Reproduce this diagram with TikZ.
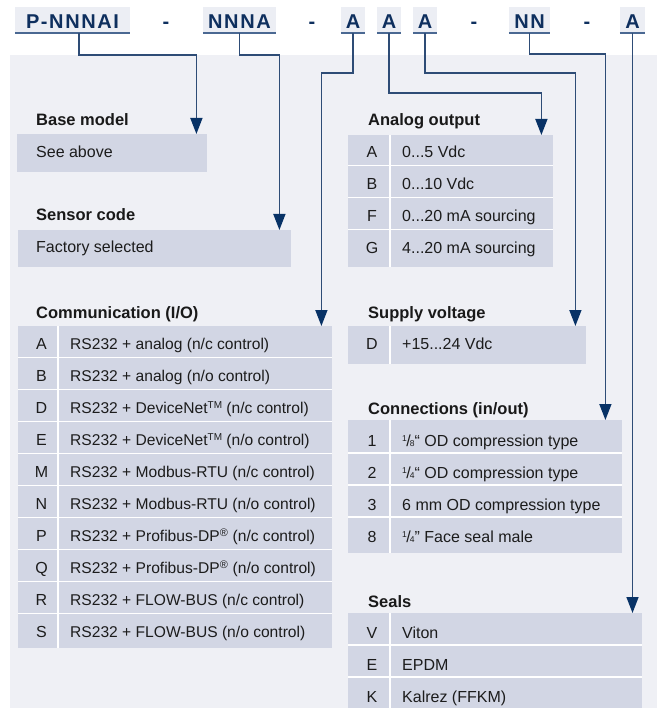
\documentclass[tikz,border=0pt]{standalone}
\usepackage{fontspec}
\setmainfont{Liberation Sans}
\newfontfamily\hdrfont[LetterSpace=8]{Liberation Sans}
\usepackage{xcolor}
\usepackage{tikz}
\usetikzlibrary{arrows.meta}
\definecolor{panelbg}{RGB}{239,240,245}
\definecolor{cellbg}{RGB}{210,214,228}
\definecolor{hdrbg}{RGB}{236,238,244}
\definecolor{hdrtext}{RGB}{14,47,94}
\definecolor{ulblue}{RGB}{74,104,146}
\definecolor{wireblue}{RGB}{46,76,118}
\definecolor{tipblue}{RGB}{8,50,102}
\definecolor{bodytext}{RGB}{28,28,28}
\newcommand{\fracmark}[2]{\raisebox{4.6pt}{\fontsize{8.5}{8.5}\selectfont #1}\kern-0.6pt/\kern-0.8pt{\fontsize{8.5}{8.5}\selectfont #2}}

\begin{document}
\begin{tikzpicture}[x=1pt, y=-1pt,
codebox/.style={fill=hdrbg, text=hdrtext, font=\hdrfont\bfseries\fontsize{20}{20}\selectfont, inner sep=0pt, minimum height=26pt, text height=18pt, text depth=0pt},
dashtext/.style={text=hdrtext, font=\hdrfont\bfseries\fontsize{20}{20}\selectfont, inner sep=0pt, minimum height=26pt, text height=18pt, text depth=0pt},
underbar/.style={draw=ulblue, line width=2pt},
tablebg/.style={fill=cellbg, inner sep=0pt, anchor=north west},
rule/.style={draw=white, line width=1.5pt},
sectitle/.style={anchor=base west, inner sep=0pt, text=black!90, font=\bfseries\fontsize{16.5}{16.5}\selectfont},
entrytext/.style={anchor=base west, inner sep=0pt, text=bodytext, font=\fontsize{16}{16}\selectfont},
codetext/.style={anchor=base, inner sep=0pt, text=bodytext, font=\fontsize{16}{16}\selectfont},
commtext/.style={anchor=base west, inner sep=0pt, text=bodytext, font=\fontsize{15.6}{16}\selectfont},
wire/.style={draw=wireblue, line width=1.5pt, -{Triangle[width=12pt, length=16pt, color=tipblue, fill=tipblue]}}]
\useasboundingbox (0,0) rectangle (657,708);

\fill[panelbg] (10,55) rectangle (657,708);

\node[codebox, minimum width=115pt] at (72.5,20) (pbase) {P-NNNAI};
\node[dashtext] at (166,20) (dash1) {-};
\node[codebox, minimum width=73pt] at (239.5,20) (nnna) {NNNA};
\node[dashtext] at (312,20) (dash2) {-};
\node[codebox, minimum width=24pt] at (353,20) (acomm) {A};
\node[codebox, minimum width=24pt] at (389,20) (aanalog) {A};
\node[codebox, minimum width=24pt] at (425,20) (asupply) {A};
\node[dashtext] at (474,20) (dash3) {-};
\node[codebox, minimum width=41pt] at (529.5,20) (nnconn) {NN};
\node[dashtext] at (587,20) (dash4) {-};
\node[codebox, minimum width=25pt] at (632.5,20) (aseals) {A};
\draw[underbar] (pbase.south west) -- (pbase.south east);
\draw[underbar] (nnna.south west) -- (nnna.south east);
\draw[underbar] (acomm.south west) -- (acomm.south east);
\draw[underbar] (aanalog.south west) -- (aanalog.south east);
\draw[underbar] (asupply.south west) -- (asupply.south east);
\draw[underbar] (nnconn.south west) -- (nnconn.south east);
\draw[underbar] (aseals.south west) -- (aseals.south east);

\node[tablebg, minimum width=190pt, minimum height=38pt] at (17,134) (base) {};
\node[tablebg, minimum width=273pt, minimum height=37pt] at (18,230) (sensor) {};
\node[tablebg, minimum width=314pt, minimum height=322pt] at (18,326) (comm) {};
\node[tablebg, minimum width=205pt, minimum height=132pt] at (348,135) (analog) {};
\node[tablebg, minimum width=238pt, minimum height=38pt] at (348,326) (supply) {};
\node[tablebg, minimum width=274pt, minimum height=133pt] at (348,420) (conn) {};
\node[tablebg, minimum width=294pt, minimum height=96pt] at (348,613) (seals) {};

\draw[rule] ([xshift=40pt]comm.north west) -- ([xshift=40pt]comm.south west);
\draw[rule] (comm.west |- 0,357.5) -- (comm.east |- 0,357.5);
\draw[rule] (comm.west |- 0,389.5) -- (comm.east |- 0,389.5);
\draw[rule] (comm.west |- 0,421.5) -- (comm.east |- 0,421.5);
\draw[rule] (comm.west |- 0,453.5) -- (comm.east |- 0,453.5);
\draw[rule] (comm.west |- 0,485.5) -- (comm.east |- 0,485.5);
\draw[rule] (comm.west |- 0,517.5) -- (comm.east |- 0,517.5);
\draw[rule] (comm.west |- 0,549.5) -- (comm.east |- 0,549.5);
\draw[rule] (comm.west |- 0,581.5) -- (comm.east |- 0,581.5);
\draw[rule] (comm.west |- 0,613.5) -- (comm.east |- 0,613.5);
\draw[rule] ([xshift=42pt]analog.north west) -- ([xshift=42pt]analog.south west);
\draw[rule] (analog.west |- 0,165.5) -- (analog.east |- 0,165.5);
\draw[rule] (analog.west |- 0,197.5) -- (analog.east |- 0,197.5);
\draw[rule] (analog.west |- 0,229.5) -- (analog.east |- 0,229.5);
\draw[rule] ([xshift=42pt]supply.north west) -- ([xshift=42pt]supply.south west);
\draw[rule] ([xshift=42pt]conn.north west) -- ([xshift=42pt]conn.south west);
\draw[rule] (conn.west |- 0,453) -- (conn.east |- 0,453);
\draw[rule] (conn.west |- 0,485) -- (conn.east |- 0,485);
\draw[rule] (conn.west |- 0,517) -- (conn.east |- 0,517);
\draw[rule] ([xshift=42pt]seals.north west) -- ([xshift=42pt]seals.south west);
\draw[rule] (seals.west |- 0,645) -- (seals.east |- 0,645);
\draw[rule] (seals.west |- 0,677) -- (seals.east |- 0,677);

\node[sectitle] at (36,126) (tbase) {Base model};
\node[sectitle] at (36,221) (tsensor) {Sensor code};
\node[sectitle] at (36,318) (tcomm) {Communication (I/O)};
\node[sectitle] at (368,126) (tanalog) {Analog output};
\node[sectitle] at (368,318) (tsupply) {Supply voltage};
\node[sectitle] at (368,414) (tconn) {Connections (in/out)};
\node[sectitle] at (368,607) (tseals) {Seals};

\node[entrytext] at (36,158) (seeabove) {See above};
\node[entrytext] at (36,253) (factory) {Factory selected};

\node[codetext] at (41.5,349.5) (kA) {A};
\node[codetext] at (41.5,381.5) (kB) {B};
\node[codetext] at (41.5,413.5) (kD) {D};
\node[codetext] at (41.5,445.5) (kE) {E};
\node[codetext] at (41.5,477.5) (kM) {M};
\node[codetext] at (41.5,509.5) (kN) {N};
\node[codetext] at (41.5,541.5) (kP) {P};
\node[codetext] at (41.5,573.5) (kQ) {Q};
\node[codetext] at (41.5,605.5) (kR) {R};
\node[codetext] at (41.5,637.5) (kS) {S};
\node[commtext] at (70,349.5) (vA) {RS232 + analog (n/c control)};
\node[commtext] at (70,381.5) (vB) {RS232 + analog (n/o control)};
\node[commtext] at (70,413.5) (vD) {RS232 + DeviceNet{\fontsize{10}{10}\selectfont\raisebox{5pt}{TM}} (n/c control)};
\node[commtext] at (70,445.5) (vE) {RS232 + DeviceNet{\fontsize{10}{10}\selectfont\raisebox{5pt}{TM}} (n/o control)};
\node[commtext] at (70,477.5) (vM) {RS232 + Modbus-RTU (n/c control)};
\node[commtext] at (70,509.5) (vN) {RS232 + Modbus-RTU (n/o control)};
\node[commtext] at (70,541.5) (vP) {RS232 + Profibus-DP\textsuperscript{®} (n/c control)};
\node[commtext] at (70,573.5) (vQ) {RS232 + Profibus-DP\textsuperscript{®} (n/o control)};
\node[commtext] at (70,605.5) (vR) {RS232 + FLOW-BUS (n/c control)};
\node[commtext] at (70,637.5) (vS) {RS232 + FLOW-BUS (n/o control)};

\node[codetext] at (372,158) (oA) {A};
\node[codetext] at (372,190) (oB) {B};
\node[codetext] at (372,222) (oF) {F};
\node[codetext] at (372,254) (oG) {G};
\node[entrytext] at (402,158) (oAv) {0...5 Vdc};
\node[entrytext] at (402,190) (oBv) {0...10 Vdc};
\node[entrytext] at (402,222) (oFv) {0...20 mA sourcing};
\node[entrytext] at (402,254) (oGv) {4...20 mA sourcing};

\node[codetext] at (372,349) (sD) {D};
\node[entrytext] at (402,349) (sDv) {+15...24 Vdc};

\node[codetext] at (372,446.5) (c1) {1};
\node[codetext] at (372,478.5) (c2) {2};
\node[codetext] at (372,510.5) (c3) {3};
\node[codetext] at (372,542.5) (c8) {8};
\node[entrytext] at (402,446.5) (c1v) {\fracmark{1}{8}“ OD compression type};
\node[entrytext] at (402,478.5) (c2v) {\fracmark{1}{4}“ OD compression type};
\node[entrytext] at (402,510.5) (c3v) {6 mm OD compression type};
\node[entrytext] at (402,542.5) (c8v) {\fracmark{1}{4}” Face seal male};

\node[codetext] at (372,638.5) (eV) {V};
\node[codetext] at (372,670.5) (eE) {E};
\node[codetext] at (372,702.5) (eK) {K};
\node[entrytext] at (402,638.5) (eVv) {Viton};
\node[entrytext] at (402,670.5) (eEv) {EPDM};
\node[entrytext] at (402,702.5) (eKv) {Kalrez (FFKM)};

\draw[wire] ([xshift=6.5pt]pbase.south) -- ++(0,22) -| ([xshift=-11pt]base.north east);
\draw[wire] (nnna.south) -- ++(0,22) -| ([xshift=-12pt]sensor.north east);
\draw[wire] (acomm.south) -- ++(0,40) -| ([xshift=-11pt]comm.north east);
\draw[wire] (aanalog.south) -- ++(0,60) -| ([xshift=-12pt]analog.north east);
\draw[wire] (asupply.south) -- ++(0,40) -| ([xshift=-11pt]supply.north east);
\draw[wire] (nnconn.south) -- ++(0,21) -| ([xshift=-17pt]conn.north east);
\draw[wire] (aseals.south) -- (aseals.south |- seals.north);

\end{tikzpicture}
\end{document}
